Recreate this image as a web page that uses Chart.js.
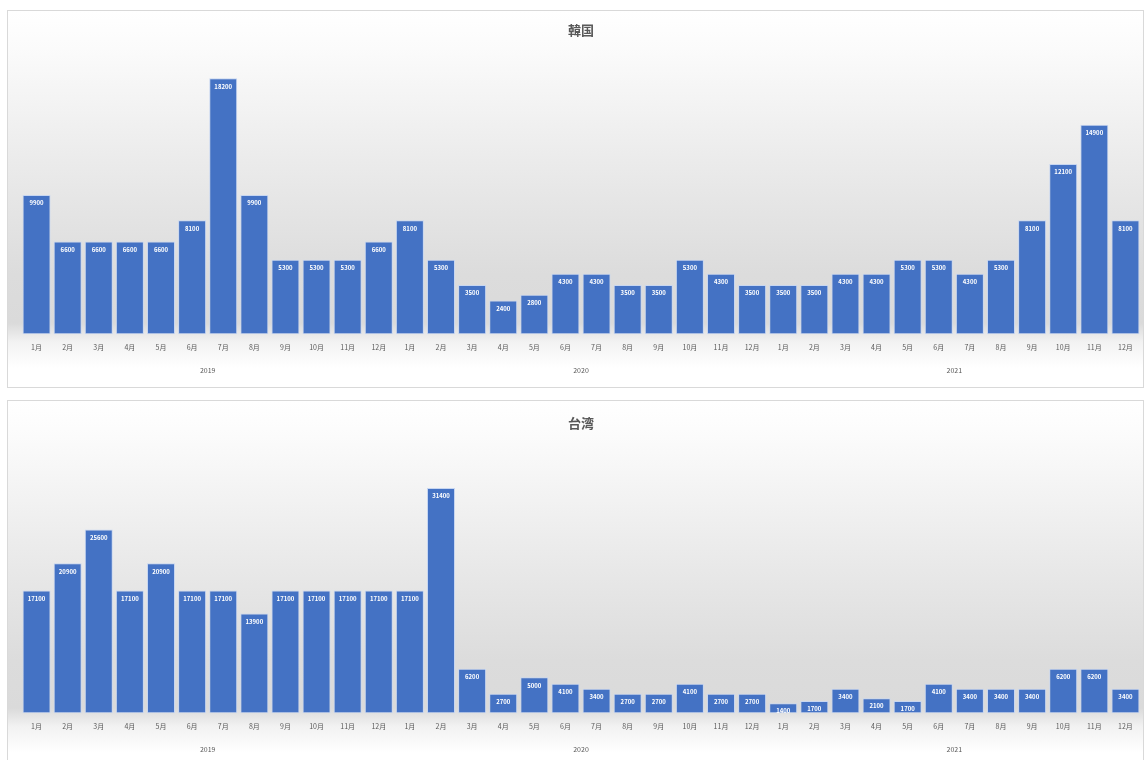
<!DOCTYPE html>
<html>
<head>
<meta charset="utf-8">
<script src="https://cdn.jsdelivr.net/npm/chart.js@4/dist/chart.umd.min.js"></script>
<style>
  body { margin: 0; background: #fff; width: 1144px; height: 760px; overflow: hidden; position: relative; }
  .panel {
    position: absolute; left: 7px; width: 1137px; box-sizing: border-box;
    border: 1px solid #d9d9d9;
    background: linear-gradient(to bottom, #ffffff 0%, #fbfbfb 10%, #ececec 38%, #dcdcdc 70%, #dadada 83%, #f2f2f2 88%, #ffffff 95%);
  }
  #p1 { top: 10px; height: 378px; }
  #p2 { top: 400px; height: 372px; }
</style>
</head>
<body>
<div class="panel" id="p1"><canvas id="korea"></canvas></div>
<div class="panel" id="p2"><canvas id="taiwan"></canvas></div>
<script>
// months x 3 years
var months = ['1月','2月','3月','4月','5月','6月','7月','8月','9月','10月','11月','12月'];
var years = ['2019','2020','2021'];
var labels = months.concat(months, months);

// 韓国
var koreaValues = [
  9900, 6600, 6600, 6600, 6600, 8100, 18200, 9900, 5300, 5300, 5300, 6600,
  8100, 5300, 3500, 2400, 2800, 4300, 4300, 3500, 3500, 5300, 4300, 3500,
  3500, 3500, 4300, 4300, 5300, 5300, 4300, 5300, 8100, 12100, 14900, 8100
];
// 台湾
var taiwanValues = [
  17100, 20900, 25600, 17100, 20900, 17100, 17100, 13900, 17100, 17100, 17100, 17100,
  17100, 31400, 6200, 2700, 5000, 4100, 3400, 2700, 2700, 4100, 2700, 2700,
  1400, 1700, 3400, 2100, 1700, 4100, 3400, 3400, 3400, 6200, 6200, 3400
];

var FONT = '"Noto Sans CJK JP", "Noto Sans", sans-serif';

// white value labels inside the top of each bar
var barLabels = {
  id: 'barLabels',
  afterDatasetsDraw: function(chart) {
    var ctx = chart.ctx;
    var meta = chart.getDatasetMeta(0);
    ctx.save();
    ctx.fillStyle = '#ffffff';
    ctx.font = 'bold 6px ' + FONT;
    ctx.textAlign = 'center';
    ctx.textBaseline = 'middle';
    meta.data.forEach(function(bar, i) {
      ctx.fillText(String(chart.data.datasets[0].data[i]), bar.x, bar.y + 8);
    });
    ctx.restore();
  }
};

function makeChart(id, title, values, yMax, pad) {
  var ctx = document.getElementById(id).getContext('2d');
  return new Chart(ctx, {
    type: 'bar',
    data: {
      labels: labels,
      datasets: [{
        label: title,
        data: values,
        backgroundColor: '#4472C4',
        borderColor: '#c7d6f1',
        borderWidth: 1,
        borderSkipped: false,
        barPercentage: 0.9,
        categoryPercentage: 1.0
      }]
    },
    options: {
      responsive: false,
      animation: false,
      events: [],
      layout: { padding: { left: 13, right: 2, top: 0, bottom: pad.bottom } },
      plugins: {
        legend: { display: false },
        tooltip: { enabled: false },
        title: {
          display: true,
          text: title,
          color: '#595959',
          font: { family: FONT, size: 13, weight: 'bold' },
          padding: { top: pad.titleTop, bottom: pad.titleBottom }
        }
      },
      scales: {
        x: {
          grid: { display: false, drawTicks: false },
          border: { display: false },
          ticks: {
            autoSkip: false, maxRotation: 0, padding: 9,
            color: '#595959', font: { family: FONT, size: 7 }
          }
        },
        x2: {
          type: 'category',
          labels: years,
          offset: true,
          position: 'bottom',
          grid: { display: false, drawTicks: false },
          border: { display: false },
          ticks: {
            maxRotation: 0, padding: 6,
            color: '#595959', font: { family: FONT, size: 7 }
          }
        },
        y: { display: false, min: 0, max: yMax }
      }
    },
    plugins: [barLabels]
  });
}

document.getElementById('korea').width = 1135;
document.getElementById('korea').height = 376;
document.getElementById('taiwan').width = 1135;
document.getElementById('taiwan').height = 370;

makeChart('korea', '韓国', koreaValues, 20100, { titleTop: 11, titleBottom: 14, bottom: 6 });
makeChart('taiwan', '台湾', taiwanValues, 37300, { titleTop: 14, titleBottom: 15, bottom: 11 });
</script>
</body>
</html>
